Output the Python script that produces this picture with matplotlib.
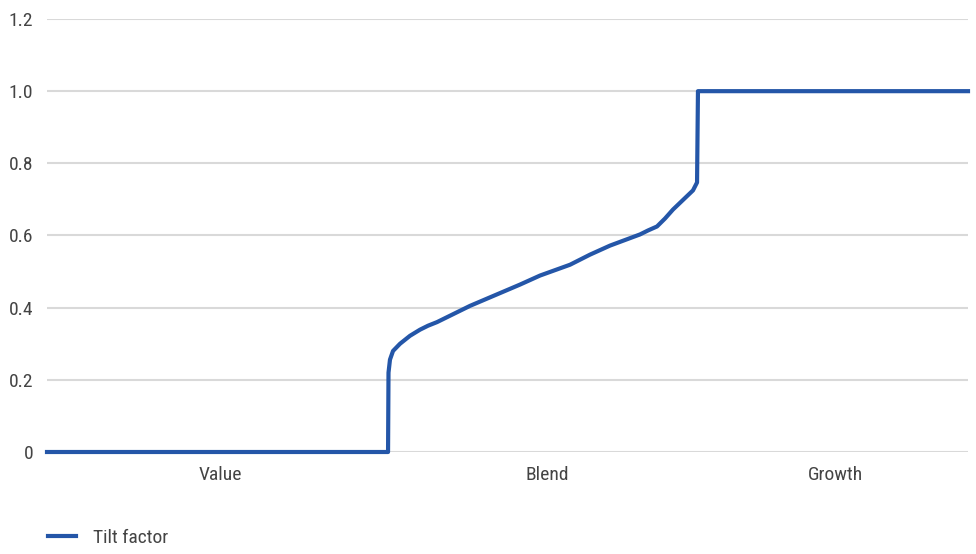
import matplotlib
matplotlib.use("Agg")
import matplotlib.pyplot as plt
from matplotlib import font_manager

names = {f.name for f in font_manager.fontManager.ttflist}
fam = [n for n in ["Liberation Sans Narrow", "Roboto Condensed", "Roboto", "DejaVu Sans"] if n in names]
plt.rcParams["font.family"] = fam

# Style score position (0-100) and tilt factor
style_x = [0, 37.03, 37.08, 37.24, 37.57, 38.33, 39.41, 40.50, 41.37, 42.35, 45.93,
           51.36, 53.53, 56.79, 58.96, 61.13, 64.39, 65.26, 66.23, 67.10, 67.97,
           70.14, 70.58, 70.68, 100]
tilt = [0, 0, 0.22, 0.256, 0.28, 0.30, 0.322, 0.339, 0.35, 0.36, 0.405,
        0.464, 0.489, 0.519, 0.547, 0.572, 0.603, 0.614, 0.625, 0.647, 0.672,
        0.725, 0.747, 1.0, 1.0]

categories = ["Value", "Blend", "Growth"]
category_pos = [18.8, 54.3, 85.6]
yticks = [0, 0.2, 0.4, 0.6, 0.8, 1.0, 1.2]
ytick_labels = ["0", "0.2", "0.4", "0.6", "0.8", "1.0", "1.2"]

fig = plt.figure(figsize=(9.76, 5.54), dpi=100)
ax = fig.add_axes([47/976, 1-452/554, (968-47)/976, (452-19)/554])

line_color = "#2456a8"
ax.plot(style_x, tilt, color=line_color, lw=3, label="Tilt factor",
        clip_on=False, solid_joinstyle="round", zorder=3)

ax.set_xlim(0, 100)
ax.set_ylim(0, 1.2)
ax.set_yticks(yticks)
ax.set_yticklabels(ytick_labels)
ax.set_xticks(category_pos)
ax.set_xticklabels(categories)
ax.grid(axis="y", color="#d9d9d9", lw=1.5)
ax.set_axisbelow(True)
for s in ax.spines.values():
    s.set_visible(False)
ax.tick_params(axis="both", length=0, labelsize=14, colors="#444444")
ax.tick_params(axis="y", pad=10)
ax.tick_params(axis="x", pad=10)

leg = fig.legend(loc="center left", bbox_to_anchor=(42/976, 1-538/554), frameon=False,
                 fontsize=14, handlelength=1.45, handletextpad=0.85,
                 labelcolor="#444444", borderaxespad=0, borderpad=0.3)

fig.savefig("out.png", dpi=100)
